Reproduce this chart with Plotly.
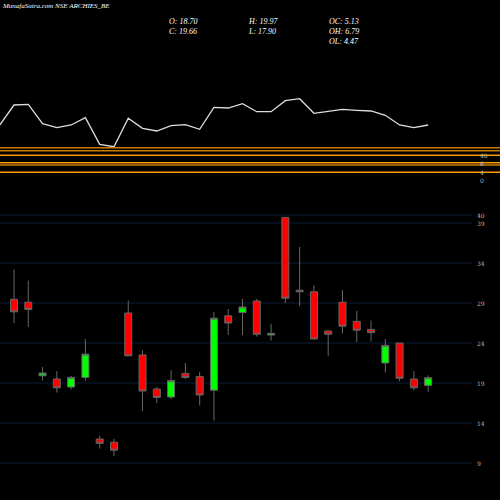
import plotly.graph_objects as go

opens  = [29.46,29.1,19.9,19.5,18.5,19.7,12.0,11.6,27.75,22.5,18.25,17.25,20.2,19.8,18.1,27.4,27.8,29.25,25.0,39.7,30.6,30.4,25.5,29.1,26.7,25.7,21.5,24.0,19.5,18.70]
highs  = [33.2,31.8,21.0,20.5,19.9,24.5,12.4,12.0,29.3,23.1,18.5,20.6,21.5,20.4,27.9,28.25,29.5,29.5,26.4,39.7,36.0,31.2,25.5,30.6,28.0,26.8,24.5,24.0,20.5,19.97]
lows   = [26.5,26.0,19.3,17.8,18.2,19.3,10.8,9.9,22.4,15.5,16.5,17.0,19.5,16.2,14.3,25.0,25.0,24.8,24.3,29.0,28.6,24.5,22.4,25.2,24.1,24.2,20.3,19.2,18.1,17.90]
closes = [27.9,28.2,20.25,18.4,19.7,22.6,11.46,10.6,22.4,18.0,17.2,19.3,19.7,17.5,27.1,26.5,28.5,25.1,25.2,29.6,30.4,24.5,25.1,26.1,25.6,25.3,23.7,19.6,18.4,19.66]
idx = list(range(len(opens)))

# upper indicator panel (pixel-like units)
ind_x = list(range(-1, 30))
ind_y = [125,105,104.3,123.7,127.7,125,117.7,144.3,146.7,118.3,128.3,131,125.7,124.7,129.3,107.3,108,103.7,111.7,111.7,100.7,98.7,113.3,111.3,109.3,110.3,111,115.3,125,127.7,125]
band_levels = [147.7,150.7,155.3,162.7,165,172.3]
band_colors = ['#c77a00','#c77a00','#ff9900','#ff9900','#c77a00','#ff9900']

price_ticks = [40,39,34,29,24,19,14,9]
ind_labels = [("40",155),("6",163),("4",172),("0",180)]

fig = go.Figure()
fig.add_trace(go.Candlestick(x=idx, open=opens, high=highs, low=lows, close=closes,
    increasing=dict(fillcolor='#00ff00', line=dict(color='#666666', width=1)),
    decreasing=dict(fillcolor='#ff0000', line=dict(color='#666666', width=1)),
    whiskerwidth=0, showlegend=False, hoverinfo='skip'))
fig.add_trace(go.Scatter(x=ind_x, y=ind_y, mode='lines', line=dict(color='#dddddd', width=1.3),
    yaxis='y2', showlegend=False, hoverinfo='skip'))

shapes = []
for t in price_ticks:
    shapes.append(dict(type='line', xref='paper', yref='y', x0=0, x1=0.944, y0=t, y1=t,
                       line=dict(color='#0d1b36', width=1.2), layer='below'))
for lv, c in zip(band_levels, band_colors):
    shapes.append(dict(type='line', xref='paper', yref='y2', x0=0, x1=1, y0=lv, y1=lv,
                       line=dict(color=c, width=1.5)))

ann = []
for t in price_ticks:
    ann.append(dict(x=0.95, xref='paper', y=t, yref='y', text=str(t), showarrow=False,
                    xanchor='left', font=dict(color='#bbbbbb', size=6, family='DejaVu Serif')))
for txt, yy in ind_labels:
    ann.append(dict(x=0.955, xref='paper', y=yy, yref='y2', text=txt, showarrow=False,
                    xanchor='left', font=dict(color='#bbbbbb', size=6, family='DejaVu Serif')))
ann.append(dict(x=0, xref='paper', y=6, yref='y2', text='<i>MunafaSutra.com NSE ARCHIES_BE</i>',
                showarrow=False, xanchor='left', font=dict(color='#ffffff', size=7, family='Liberation Serif')))
info = [("O: 18.70",167,21),("C: 19.66",167,31),("H: 19.97",246,21),("L: 17.90",246,31),
        ("OC: 5.13",327,21),("OH: 6.79",327,31),("OL: 4.47",327,41)]
for txt, xx, yy in info:
    ann.append(dict(x=xx/500, xref='paper', y=yy, yref='y2', text='<i>'+txt+'</i>', showarrow=False,
                    xanchor='left', font=dict(color='#ffffff', size=8, family='Liberation Serif')))

fig.update_layout(width=500, height=500, margin=dict(l=0, r=0, t=0, b=0),
    paper_bgcolor='#000000', plot_bgcolor='#000000',
    xaxis=dict(range=[-0.98, 34.03], visible=False, rangeslider=dict(visible=False), fixedrange=True),
    yaxis=dict(range=[4.375, 66.875], visible=False),
    yaxis2=dict(range=[500, 0], overlaying='y', visible=False),
    shapes=shapes, annotations=ann)
fig.write_html("out.html", config={'displayModeBar': False},
               post_script="document.body.style.margin='0';document.body.style.background='#000';")
